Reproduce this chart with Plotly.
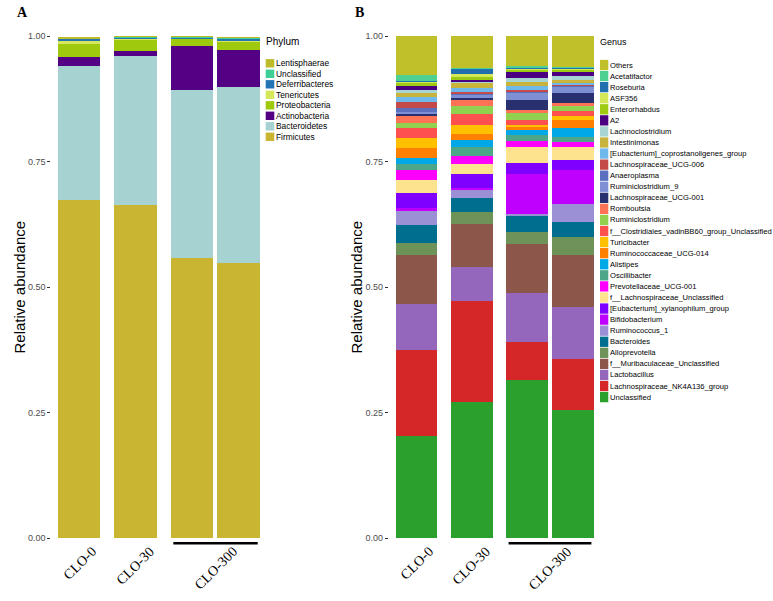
import plotly.graph_objects as go

# ---------------- data ----------------
groups = ["CLO-0", "CLO-30", "CLO-300"]
group_sizes = [1, 1, 2]          # samples per group (4 bars in total)

y_tick_vals = [0, 0.25, 0.5, 0.75, 1.0]
y_tick_text = ["0.00", "0.25", "0.50", "0.75", "1.00"]

# Panel A: phylum (stack order bottom -> top)
phyla = ["Firmicutes", "Bacteroidetes", "Actinobacteria", "Proteobacteria",
         "Tenericutes", "Deferribacteres", "Unclassified", "Lentisphaerae"]
phylum_s1 = [0.673, 0.268, 0.017, 0.027, 0.005, 0.005, 0.001, 0.001]
phylum_s2 = [0.663, 0.297, 0.011, 0.022, 0.001, 0.004, 0.001, 0.001]
phylum_s3 = [0.558, 0.334, 0.088, 0.015, 0.001, 0.002, 0.001, 0.001]
phylum_s4 = [0.548, 0.350, 0.074, 0.018, 0.001, 0.005, 0.001, 0.001]

# Panel B: genus (stack order bottom -> top)
genera = ["Unclassified", "Lachnospiraceae_NK4A136_group", "Lactobacillus",
          "f__Muribaculaceae_Unclassified", "Alloprevotella", "Bacteroides",
          "Ruminococcus_1", "Bifidobacterium", "[Eubacterium]_xylanophilum_group",
          "f__Lachnospiraceae_Unclassified", "Prevotellaceae_UCG-001", "Oscillibacter",
          "Alistipes", "Ruminococcaceae_UCG-014", "Turicibacter",
          "f__Clostridiales_vadinBB60_group_Unclassified", "Ruminiclostridium",
          "Romboutsia", "Lachnospiraceae_UCG-001", "Ruminiclostridium_9",
          "Anaeroplasma", "Lachnospiraceae_UCG-006",
          "[Eubacterium]_coprostanoligenes_group", "Intestinimonas",
          "Lachnoclostridium", "A2", "Enterorhabdus", "ASF356", "Roseburia",
          "Acetatifactor", "Others"]
genus_s1 = [0.203, 0.171, 0.092, 0.098, 0.023, 0.036, 0.028, 0.007, 0.029, 0.027,
            0.020, 0.011, 0.012, 0.021, 0.019, 0.019, 0.011, 0.013, 0.004, 0.005,
            0.008, 0.011, 0.010, 0.009, 0.005, 0.008, 0.007, 0.002, 0.002, 0.012, 0.077]
genus_s2 = [0.272, 0.201, 0.068, 0.085, 0.023, 0.029, 0.017, 0.002, 0.028, 0.021,
            0.015, 0.019, 0.013, 0.012, 0.018, 0.021, 0.017, 0.013, 0.002, 0.006,
            0.004, 0.002, 0.008, 0.010, 0.004, 0.003, 0.005, 0.007, 0.010, 0.001, 0.065]
genus_s3 = [0.315, 0.075, 0.099, 0.096, 0.025, 0.033, 0.003, 0.080, 0.021, 0.033,
            0.012, 0.011, 0.010, 0.005, 0.005, 0.009, 0.015, 0.005, 0.021, 0.013,
            0.004, 0.003, 0.008, 0.007, 0.009, 0.011, 0.005, 0.002, 0.002, 0.003, 0.060]
genus_s4 = [0.255, 0.101, 0.104, 0.104, 0.036, 0.029, 0.036, 0.068, 0.021, 0.026,
            0.009, 0.010, 0.017, 0.017, 0.008, 0.009, 0.010, 0.007, 0.020, 0.011,
            0.004, 0.002, 0.002, 0.007, 0.008, 0.009, 0.003, 0.003, 0.001, 0.002, 0.062]

# ---------------- styles ----------------
phylum_colors = ["#c9b532", "#a6d2d2", "#540084", "#9fc90c",
                 "#d5e85b", "#2374b5", "#3ecf97", "#bcbc2a"]
genus_colors = ["#2ca02c", "#d62728", "#9467bd", "#8c564b", "#6d9358", "#006f8f",
                "#9b8fd5", "#c000ff", "#7f00ff", "#fde38d", "#ff00ff", "#4da688",
                "#00a8e8", "#ff7f00", "#ffc000", "#ff5050", "#92d050", "#ff7256",
                "#283070", "#7f8fd3", "#5b6fbf", "#c44a4a", "#6fb8ec", "#c8b43c",
                "#a8d4d4", "#4b0082", "#9ecb12", "#d4e857", "#2070b0", "#4dd092",
                "#c0c02a"]

W, H = 773, 601
SANS = "Liberation Sans, Arial, sans-serif"
SERIF = "Liberation Serif, Times New Roman, serif"


def px(x):
    return x / W


def py(y):
    return 1 - y / H


# bar positions from the group structure (ggplot-like facets, expansion 0.6)
positions, group_centers = [], []
start = 0.0
for n in group_sizes:
    pos = [start + 0.6 + k for k in range(n)]
    positions += pos
    group_centers.append(sum(pos) / n)
    start += n + 0.2
x_span = start

fig = go.Figure()

phylum_samples = [phylum_s1, phylum_s2, phylum_s3, phylum_s4]
for i, name in enumerate(phyla):
    fig.add_trace(go.Bar(x=positions, y=[s[i] for s in phylum_samples], width=0.9,
                         name=name, marker=dict(color=phylum_colors[i], line=dict(width=0)),
                         xaxis="x", yaxis="y", showlegend=False))

genus_samples = [genus_s1, genus_s2, genus_s3, genus_s4]
for i, name in enumerate(genera):
    fig.add_trace(go.Bar(x=positions, y=[s[i] for s in genus_samples], width=0.9,
                         name=name, marker=dict(color=genus_colors[i], line=dict(width=0)),
                         xaxis="x2", yaxis="y2", showlegend=False))

ydom = [py(558.08), py(15.92)]
yax = dict(range=[-0.04, 1.04], domain=ydom, tickvals=y_tick_vals, ticktext=y_tick_text,
           ticks="outside", ticklen=3, tickwidth=1, tickcolor="#333333",
           tickfont=dict(family=SANS, size=9, color="#4d4d4d"),
           showgrid=False, zeroline=False, showline=False, fixedrange=True)
xax = dict(range=[0, x_span], showticklabels=False, ticks="", showgrid=False,
           zeroline=False, showline=False, fixedrange=True)

shapes, annotations = [], []

# group labels and the bar under the multi-sample group
for xref in ["x", "x2"]:
    for g, c, n in zip(groups, group_centers, group_sizes):
        annotations.append(dict(x=c, y=py(541), xref=xref, yref="paper", text=g,
                                showarrow=False, textangle=-45, xanchor="center",
                                yanchor="top", font=dict(family=SERIF, size=14, color="black")))
    idx = 0
    for n in group_sizes:
        if n > 1:
            shapes.append(dict(type="line", xref=xref, yref="paper",
                               x0=positions[idx] - 0.4, x1=positions[idx + n - 1] + 0.4,
                               y0=py(543.3), y1=py(543.3),
                               line=dict(color="black", width=2.5)))
        idx += n

# axis titles and panel letters
for xc, letter, lx in [(18.5, "A", 22.5), (355.5, "B", 359)]:
    annotations.append(dict(x=px(xc), y=py(287), xref="paper", yref="paper",
                            text="Relative abundance", showarrow=False, textangle=-90,
                            xanchor="center", yanchor="middle",
                            font=dict(family=SANS, size=15, color="black")))
    annotations.append(dict(x=px(lx), y=py(13), xref="paper", yref="paper",
                            text="<b>%s</b>" % letter, showarrow=False,
                            xanchor="center", yanchor="middle",
                            font=dict(family=SERIF, size=14, color="black")))


def add_legend(title, names, colors, x0, title_y, first_y, step, sw, sh, font_size, title_size):
    annotations.append(dict(x=px(x0 - 2), y=py(title_y), xref="paper", yref="paper",
                            text=title, showarrow=False, xanchor="left", yanchor="middle",
                            font=dict(family=SANS, size=title_size, color="black")))
    for k, (nm, col) in enumerate(zip(names[::-1], colors[::-1])):
        cy = first_y + k * step
        shapes.append(dict(type="rect", xref="paper", yref="paper",
                           x0=px(x0), x1=px(x0 + sw), y0=py(cy + sh / 2), y1=py(cy - sh / 2),
                           fillcolor=col, line=dict(width=0)))
        annotations.append(dict(x=px(x0 + sw), y=py(cy), xref="paper", yref="paper",
                                text=nm, showarrow=False, xanchor="left", yanchor="middle",
                                font=dict(family=SANS, size=font_size, color="black")))


add_legend("Phylum", phyla, phylum_colors, 265.7, 41.7, 63.3, 10.5, 8.6, 8.4, 8.4, 10)
add_legend("Genus", genera, genus_colors, 600, 41.7, 65, 11.07, 8.3, 10.3, 7.6, 9)

fig.update_layout(
    width=W, height=H, margin=dict(l=0, r=0, t=0, b=0),
    barmode="stack", bargap=0, plot_bgcolor="white", paper_bgcolor="white",
    xaxis=dict(domain=[px(51.4), px(267.1)], anchor="y", **xax),
    xaxis2=dict(domain=[px(388.9), px(600.6)], anchor="y2", **xax),
    yaxis=dict(anchor="x", **yax),
    yaxis2=dict(anchor="x2", **yax),
    shapes=shapes, annotations=annotations, showlegend=False,
)

fig.write_html("out.html", config={"displayModeBar": False},
               post_script="document.body.style.margin='0px';document.body.style.overflow='hidden';")
